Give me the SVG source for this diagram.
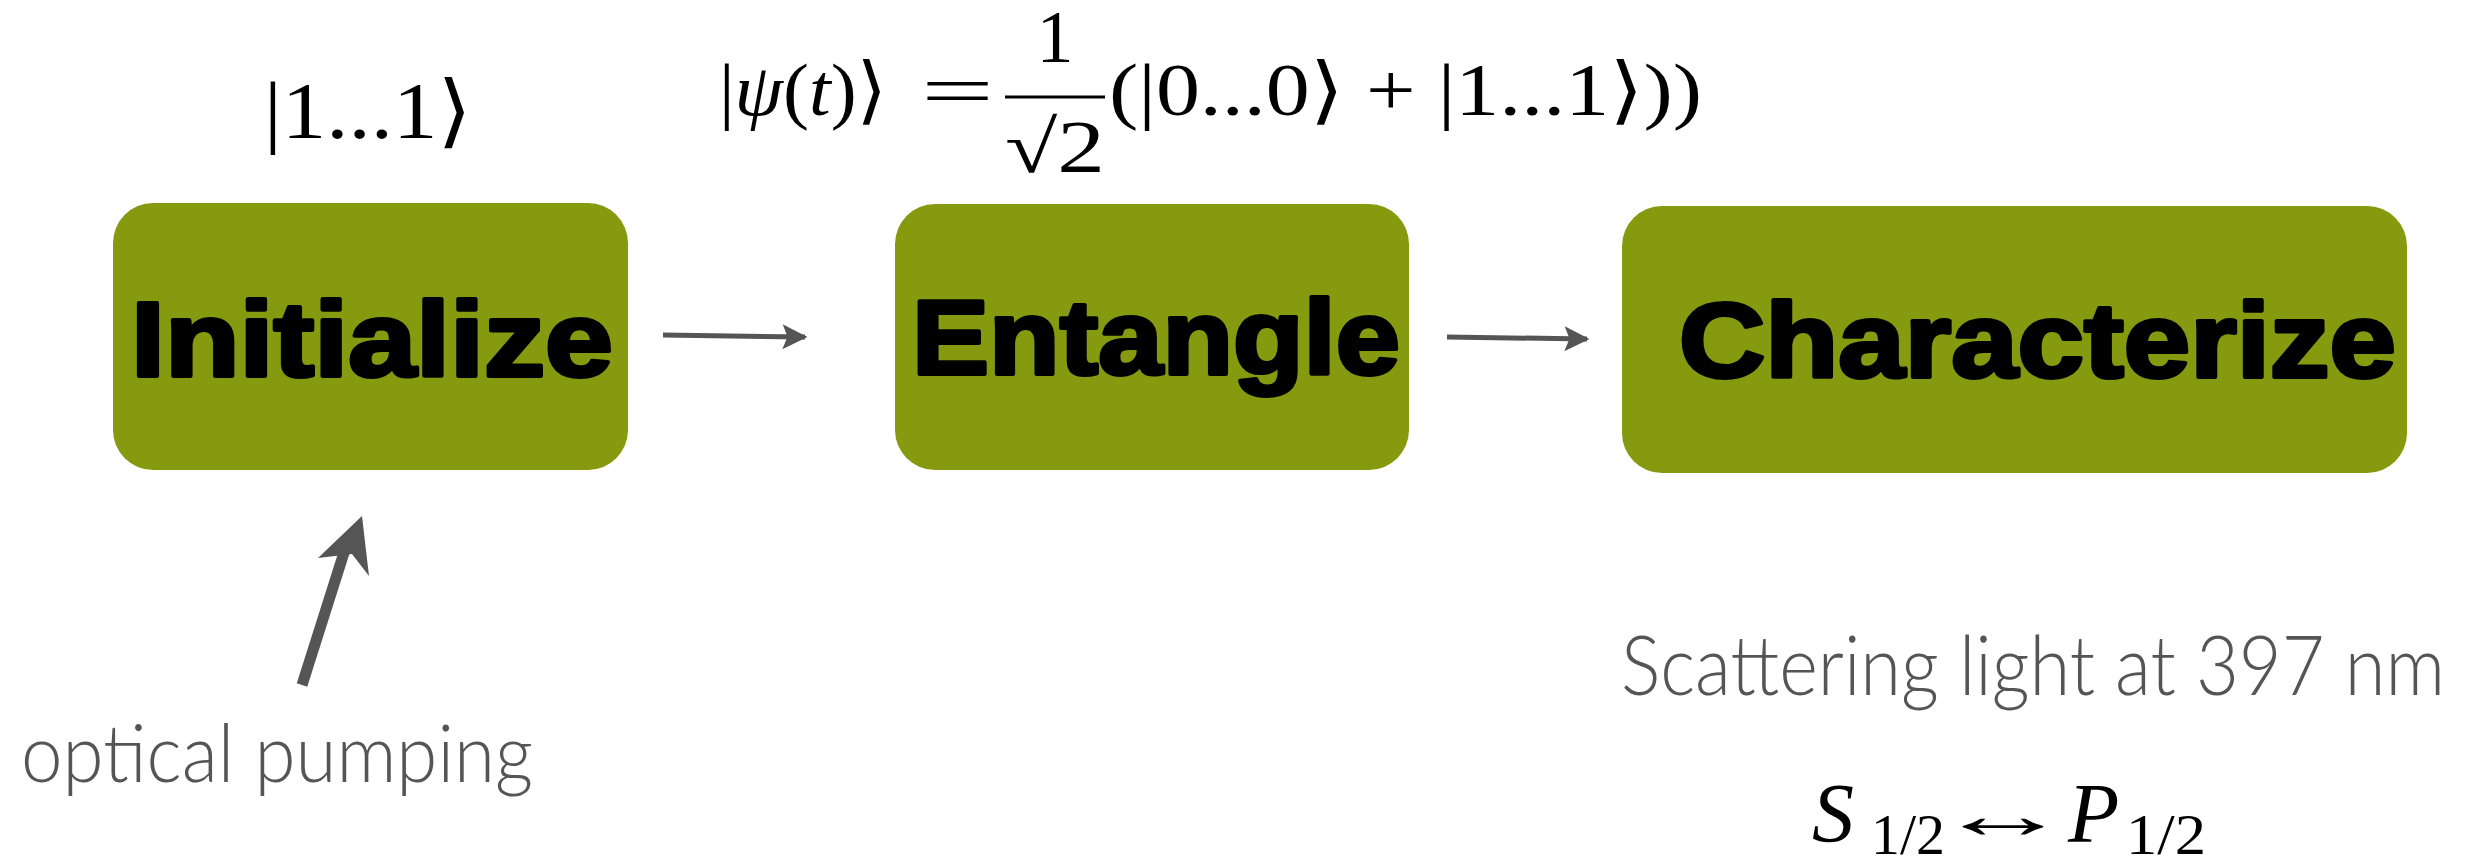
<svg xmlns="http://www.w3.org/2000/svg" width="2482" height="864" viewBox="0 0 2482 864">
<style>
.box{fill:#869a10;}
.lbl{font-family:"Liberation Sans",Arial,sans-serif;font-weight:900;fill:#000;stroke:#000;stroke-width:4;stroke-linejoin:round;font-size:106px;}
.math{font-family:"Liberation Serif","DejaVu Serif",serif;fill:#000;}
.note{font-family:Lato,"Open Sans",sans-serif;font-weight:300;fill:#555;}
.conn{stroke:#555;fill:none;}
</style>
<defs>
<marker id="ah" viewBox="0 0 10 10" refX="9" refY="5" markerWidth="5" markerHeight="5" orient="auto" markerUnits="strokeWidth">
<path d="M0,0 L10,5 L0,10 L2,5 Z" fill="#555"/>
</marker>
</defs>
<rect width="2482" height="864" fill="#fff"/>
<g id="node-initialize">
<rect class="box" x="113" y="203" width="515" height="267" rx="40" ry="40"/>
<text class="lbl" x="131" y="376" textLength="482" lengthAdjust="spacingAndGlyphs">Initialize</text>
</g>
<g id="node-entangle">
<rect class="box" x="895" y="204" width="514" height="266" rx="40" ry="40"/>
<text class="lbl" x="912" y="374" textLength="488" lengthAdjust="spacingAndGlyphs">Entangle</text>
</g>
<g id="node-characterize">
<rect class="box" x="1622" y="206" width="785" height="267" rx="40" ry="40"/>
<text class="lbl" x="1679" y="377" textLength="717" lengthAdjust="spacingAndGlyphs">Characterize</text>
</g>
<g id="connectors">
<line class="conn" x1="663" y1="335" x2="805" y2="337" stroke-width="5" marker-end="url(#ah)"/>
<line class="conn" x1="1447" y1="337" x2="1587" y2="339" stroke-width="5" marker-end="url(#ah)"/>
<line class="conn" x1="302" y1="685" x2="348" y2="540" stroke-width="11"/>
<path d="M362,516 L369,576 L352,554 L318,558 Z" fill="#555"/>
</g>
<g id="labels">
<text class="math" x="264" y="138" font-size="80" textLength="208" lengthAdjust="spacingAndGlyphs">|1...1⟩</text>
<text class="math" x="719" y="115" font-size="74" textLength="168" lengthAdjust="spacingAndGlyphs">|<tspan font-style="italic">ψ</tspan>(<tspan font-style="italic">t</tspan>)⟩</text>
<text class="math" x="921" y="115" font-size="72" textLength="73" lengthAdjust="spacingAndGlyphs">=</text>
<text class="math" x="1055" y="62" font-size="74" text-anchor="middle">1</text>
<line x1="1005" y1="97" x2="1105" y2="97" stroke="#000" stroke-width="3"/>
<text class="math" x="1005" y="172" font-size="74" textLength="100" lengthAdjust="spacingAndGlyphs">√2</text>
<text class="math" x="1109" y="115" font-size="74" textLength="593" lengthAdjust="spacingAndGlyphs">(|0...0⟩ + |1...1⟩))</text>
<text class="note" x="21" y="782" font-size="80" textLength="512" lengthAdjust="spacingAndGlyphs">optical pumping</text>
<text class="note" x="1621" y="695" font-size="82" textLength="824" lengthAdjust="spacingAndGlyphs">Scattering light at 397 nm</text>
<text class="math" x="1812" y="842" font-size="84" font-style="italic">S</text>
<text class="math" x="1871" y="854" font-size="56" textLength="74" lengthAdjust="spacingAndGlyphs">1/2</text>
<text class="math" transform="translate(1935,838) scale(2,1)" font-size="68">↔</text>
<text class="math" x="2068" y="842" font-size="84" font-style="italic">P</text>
<text class="math" x="2126" y="854" font-size="56" textLength="80" lengthAdjust="spacingAndGlyphs">1/2</text>
</g>
</svg>
